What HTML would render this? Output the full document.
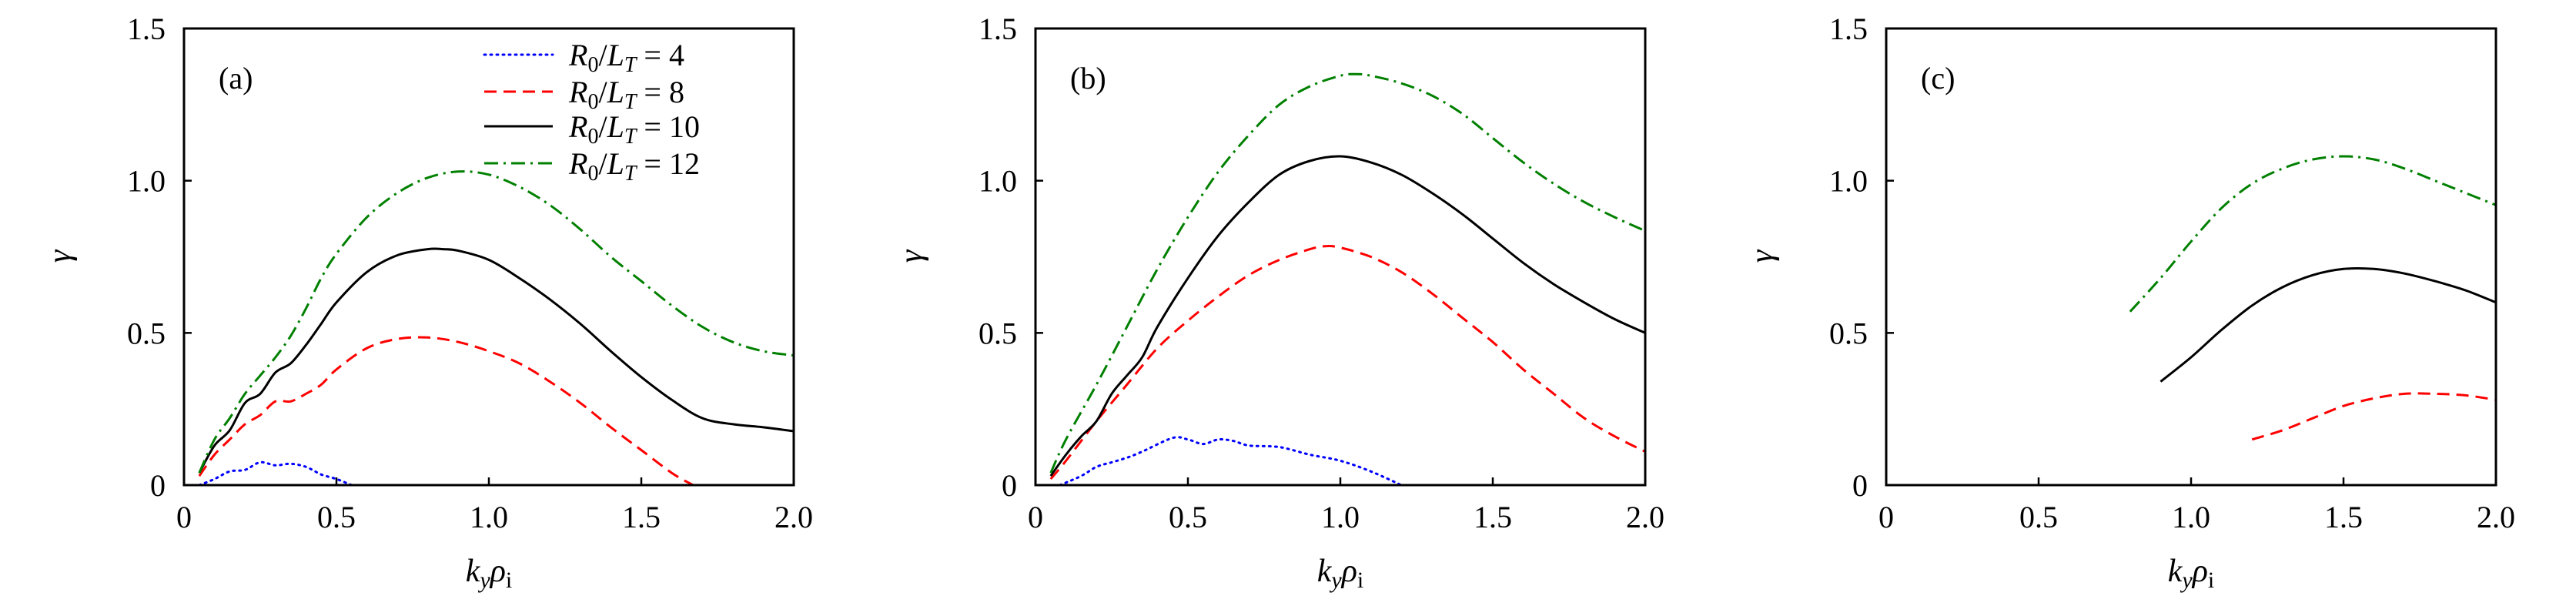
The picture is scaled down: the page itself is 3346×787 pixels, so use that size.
<!DOCTYPE html>
<html><head><meta charset="utf-8"><style>
html,body{margin:0;padding:0;background:#fff;}
svg{display:block;font-family:"Liberation Serif",serif;}
</style></head><body>
<svg id="fig" width="3346" height="787" viewBox="0 0 3346 787" xmlns="http://www.w3.org/2000/svg"></svg>
<script>
const xTicks=[0,0.5,1.0,1.5,2.0];
const xTickLabels=["0","0.5","1.0","1.5","2.0"];
const yTicks=[0,0.5,1.0,1.5];
const yTickLabels=["0","0.5","1.0","1.5"];
const panelLabels=["(a)","(b)","(c)"];
const seriesNames=["R0/LT=4","R0/LT=8","R0/LT=10","R0/LT=12"];
// panel a
const aX4=[0.05,0.1,0.15,0.2,0.25,0.3,0.35,0.4,0.45,0.5,0.55];
const aY4=[0,0.02,0.045,0.05,0.075,0.065,0.07,0.06,0.035,0.02,0];
const aX8=[0.05,0.1,0.15,0.2,0.25,0.3,0.35,0.4,0.45,0.5,0.6,0.7,0.8,0.9,1.0,1.1,1.2,1.3,1.4,1.5,1.6,1.67];
const aY8=[0.03,0.1,0.15,0.2,0.23,0.275,0.275,0.3,0.33,0.38,0.45,0.48,0.485,0.47,0.44,0.4,0.34,0.27,0.19,0.115,0.04,0];
const aX10=[0.05,0.1,0.15,0.2,0.25,0.3,0.35,0.4,0.45,0.5,0.6,0.7,0.8,0.85,0.9,1.0,1.1,1.2,1.3,1.4,1.5,1.6,1.7,1.8,1.9,2.0];
const aY10=[0.04,0.13,0.18,0.27,0.3,0.37,0.4,0.46,0.53,0.6,0.7,0.755,0.775,0.775,0.77,0.74,0.68,0.61,0.53,0.44,0.355,0.28,0.22,0.2,0.19,0.177];
const aX12=[0.05,0.1,0.15,0.2,0.25,0.3,0.35,0.4,0.45,0.5,0.6,0.7,0.8,0.9,1.0,1.1,1.2,1.3,1.4,1.5,1.6,1.7,1.8,1.9,2.0];
const aY12=[0.04,0.15,0.22,0.3,0.36,0.42,0.49,0.58,0.68,0.76,0.88,0.96,1.01,1.03,1.02,0.98,0.92,0.84,0.75,0.67,0.59,0.52,0.47,0.44,0.426];
// panel b
const bX4=[0.08,0.15,0.2,0.25,0.3,0.35,0.45,0.5,0.55,0.6,0.65,0.7,0.8,0.9,1.0,1.1,1.2];
const bY4=[0,0.03,0.06,0.075,0.09,0.11,0.155,0.15,0.135,0.15,0.145,0.13,0.125,0.1,0.08,0.045,0];
const bX8=[0.05,0.1,0.2,0.3,0.4,0.5,0.6,0.7,0.8,0.9,0.95,1.0,1.1,1.2,1.3,1.4,1.5,1.6,1.7,1.8,1.9,2.0];
const bY8=[0.02,0.08,0.21,0.33,0.45,0.54,0.62,0.69,0.74,0.775,0.785,0.78,0.75,0.7,0.63,0.55,0.47,0.38,0.3,0.22,0.16,0.11];
const bX10=[0.05,0.1,0.15,0.2,0.25,0.3,0.35,0.4,0.5,0.6,0.7,0.8,0.9,1.0,1.1,1.2,1.3,1.4,1.5,1.6,1.7,1.8,1.9,2.0];
const bY10=[0.03,0.1,0.16,0.21,0.3,0.36,0.42,0.52,0.68,0.82,0.93,1.02,1.065,1.08,1.06,1.02,0.96,0.89,0.81,0.73,0.66,0.6,0.545,0.5];
const bX12=[0.05,0.1,0.2,0.3,0.4,0.5,0.6,0.7,0.8,0.9,1.0,1.05,1.1,1.2,1.3,1.4,1.5,1.6,1.7,1.8,1.9,2.0];
const bY12=[0.04,0.15,0.33,0.52,0.71,0.88,1.03,1.15,1.25,1.31,1.345,1.35,1.345,1.32,1.28,1.22,1.14,1.06,0.99,0.93,0.88,0.835];
// panel c
const cX8=[1.2,1.3,1.4,1.5,1.6,1.7,1.8,1.9,2.0];
const cY8=[0.15,0.18,0.22,0.26,0.285,0.3,0.3,0.295,0.28];
const cX10=[0.9,1.0,1.1,1.2,1.3,1.4,1.5,1.6,1.7,1.8,1.9,2.0];
const cY10=[0.34,0.42,0.51,0.59,0.65,0.69,0.71,0.71,0.695,0.67,0.64,0.6];
const cX12=[0.8,0.9,1.0,1.1,1.2,1.3,1.4,1.5,1.6,1.7,1.8,1.9,2.0];
const cY12=[0.57,0.68,0.8,0.91,0.99,1.04,1.07,1.08,1.07,1.04,1.0,0.96,0.92];

const NS="http://www.w3.org/2000/svg";
const svg=document.getElementById('fig');
const styles=[
 {color:"#0000ff",dash:"2 6",cap:"round"},
 {color:"#ff0000",dash:"16 9",cap:"butt"},
 {color:"#000000",dash:"",cap:"butt"},
 {color:"#008000",dash:"18 7 3 7",cap:"butt"}
];
const panels=[
 {left:239,series:[[aX4,aY4],[aX8,aY8],[aX10,aY10],[aX12,aY12]],legend:true},
 {left:1345,series:[[bX4,bY4],[bX8,bY8],[bX10,bY10],[bX12,bY12]],legend:false},
 {left:2450,series:[null,[cX8,cY8],[cX10,cY10],[cX12,cY12]],legend:false}
];
const W=792,TOP=37,BOT=630;
function mk(tag,attrs,parent){const e=document.createElementNS(NS,tag);for(const k in attrs)e.setAttribute(k,attrs[k]);(parent||svg).appendChild(e);return e;}
function smooth(pts){
 let d='M'+pts[0][0].toFixed(1)+' '+pts[0][1].toFixed(1);
 for(let i=0;i<pts.length-1;i++){
  const p0=pts[Math.max(0,i-1)],p1=pts[i],p2=pts[i+1],p3=pts[Math.min(pts.length-1,i+2)];
  const c1x=p1[0]+(p2[0]-p0[0])/6,c1y=p1[1]+(p2[1]-p0[1])/6;
  const c2x=p2[0]-(p3[0]-p1[0])/6,c2y=p2[1]-(p3[1]-p1[1])/6;
  d+=` C${c1x.toFixed(1)} ${c1y.toFixed(1)} ${c2x.toFixed(1)} ${c2y.toFixed(1)} ${p2[0].toFixed(1)} ${p2[1].toFixed(1)}`;
 }
 return d;
}
panels.forEach((p,pi)=>{
 const xs=v=>p.left+v/2*W;
 const ys=v=>BOT-v/1.5*(BOT-TOP);
 const g=mk('g',{});
 
 
 p.series.forEach((s,si)=>{
  if(!s)return;
  const st=styles[si];
  const pts=s[0].map((x,i)=>[xs(x),ys(s[1][i])]);
  const path=mk('path',{d:smooth(pts),fill:'none',stroke:st.color,'stroke-width':3,'stroke-linecap':st.cap,'stroke-dasharray':st.dash},g);
  
  
 });
 const fr=mk('rect',{x:p.left,y:TOP,width:W,height:BOT-TOP,fill:'none',stroke:'#000','stroke-width':3},g);
 
 
 xTicks.forEach((t,i)=>{
  mk('line',{x1:xs(t),x2:xs(t),y1:BOT,y2:BOT-10,stroke:'#000','stroke-width':2.5},g);
  const tx=mk('text',{x:xs(t),y:685,'font-size':40,'text-anchor':'middle'},g);
  tx.textContent=xTickLabels[i];
  
  
 });
 yTicks.forEach((t,i)=>{
  mk('line',{x1:p.left,x2:p.left+10,y1:ys(t),y2:ys(t),stroke:'#000','stroke-width':2.5},g);
  const tx=mk('text',{x:p.left-24,y:ys(t)+14,'font-size':40,'text-anchor':'end'},g);
  tx.textContent=yTickLabels[i];
  
  
 });
 const yl=mk('text',{x:0,y:0,'font-size':42,'font-style':'italic','text-anchor':'middle',transform:`translate(${p.left-148},333) rotate(-90)`},g);
 yl.textContent='γ';
 
 
 const xl=mk('text',{x:p.left+W/2,y:755,'font-size':42,'text-anchor':'middle'},g);
 xl.innerHTML='<tspan font-style="italic">k</tspan><tspan font-style="italic" font-size="30" dy="8">y</tspan><tspan font-style="italic" dy="-8">ρ</tspan><tspan font-size="30" dy="8">i</tspan>';
 
 
 const pl=mk('text',{x:p.left+45,y:115,'font-size':40},g);
 pl.textContent=panelLabels[pi];
 
 
 if(p.legend){
  const vals=["4","8","10","12"];
  const rows=[71,119,164,212];
  vals.forEach((v,i)=>{
   const st=styles[i];
   const lg=mk('g',{},g);
   
   
   mk('line',{x1:629,x2:718,y1:rows[i],y2:rows[i],stroke:st.color,'stroke-width':3,'stroke-dasharray':st.dash,'stroke-linecap':st.cap},lg);
   const t=mk('text',{x:739,y:rows[i]+14,'font-size':40},lg);
   t.innerHTML='<tspan font-style="italic">R</tspan><tspan font-size="28" dy="8">0</tspan><tspan dy="-8">/</tspan><tspan font-style="italic">L</tspan><tspan font-style="italic" font-size="28" dy="8">T</tspan><tspan dy="-8"> = '+v+'</tspan>';
  });
 }
});
</script>
</body></html>
